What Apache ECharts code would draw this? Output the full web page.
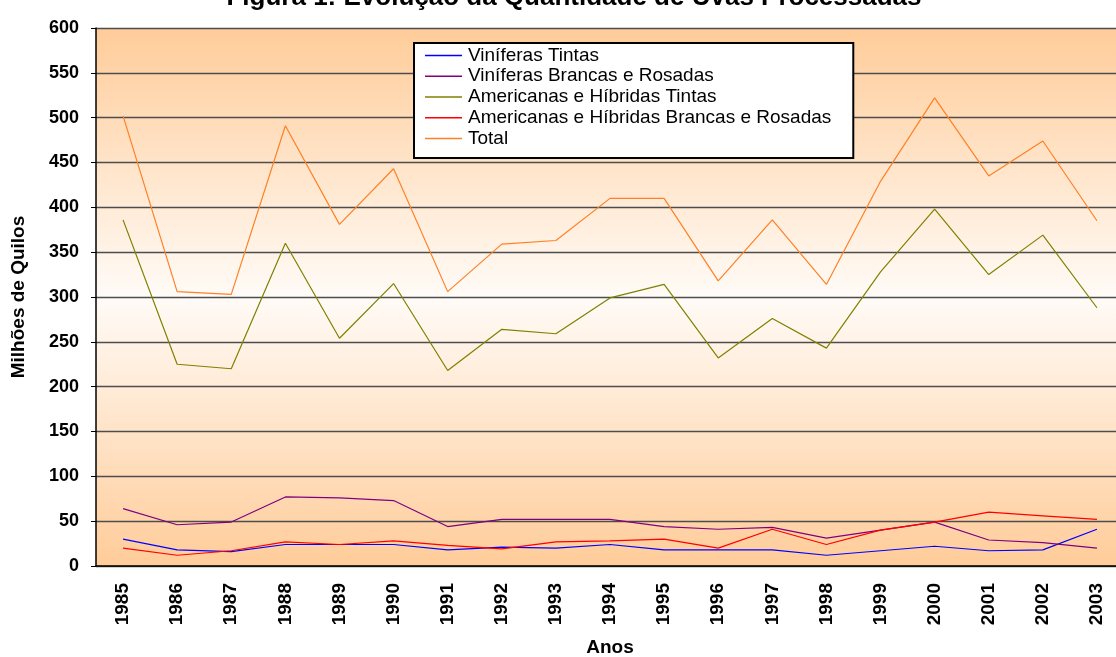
<!DOCTYPE html>
<html>
<head>
<meta charset="utf-8">
<script src="https://cdn.jsdelivr.net/npm/echarts@6/dist/echarts.min.js"></script>
<style>
  html, body { margin: 0; padding: 0; background: #fff; }
  #main { width: 1116px; height: 657px; }
</style>
</head>
<body>
<div id="main"></div>
<script>
// dados (milhões de quilos)
const anos = ['1985','1986','1987','1988','1989','1990','1991','1992','1993','1994',
              '1995','1996','1997','1998','1999','2000','2001','2002','2003'];
const viniferasTintas = [30, 18, 16, 24, 24, 24, 18, 21, 20, 24, 18, 18, 18, 12, 17, 22, 17, 18, 41];
const viniferasBrancas = [64, 46, 49, 77, 76, 73, 44, 52, 52, 52, 44, 41, 43, 31, 40, 49, 29, 26, 20];
const americanasTintas = [386, 225, 220, 360, 254, 315, 218, 264, 259, 299, 314, 232, 276, 243, 328, 398, 325, 369, 288];
const americanasBrancas = [20, 12, 17, 27, 24, 28, 23, 19, 27, 28, 30, 20, 41, 24, 40, 49, 60, 56, 52];
const total = [502, 306, 303, 491, 381, 443, 306, 359, 363, 410, 410, 318, 386, 314, 429, 522, 435, 474, 385];

const nomes = ['Viníferas Tintas', 'Viníferas Brancas e Rosadas', 'Americanas e Híbridas Tintas',
               'Americanas e Híbridas Brancas e Rosadas', 'Total'];
const cores = ['#0000FF', '#800080', '#808000', '#FF0000', '#FF8026'];
const valores = [viniferasTintas, viniferasBrancas, americanasTintas, americanasBrancas, total];

let myChart = echarts.init(document.getElementById('main'));

let option = {
  animation: false,
  textStyle: { fontFamily: 'Liberation Sans, Arial, sans-serif' },
  title: {
    text: 'Figura 1: Evolução da Quantidade de Uvas Processadas',
    left: 569,
    textAlign: 'center',
    top: -20,
    textStyle: { fontSize: 26, fontWeight: 'bold', color: '#000' }
  },
  legend: {
    orient: 'vertical',
    left: 414,
    top: 43,
    backgroundColor: '#fff',
    borderColor: '#000',
    borderWidth: 2,
    padding: [3, 22, 10, 11],
    itemGap: 1.75,
    itemWidth: 37,
    itemHeight: 1.5,
    icon: 'rect',
    textStyle: { fontSize: 19, lineHeight: 19, color: '#000', padding: [0, 0, 0, 1] },
    data: nomes
  },
  grid: {
    left: 96,
    right: -8,
    top: 28,
    bottom: 91,
    outerBoundsMode: 'none',
    show: true,
    borderWidth: 0,
    backgroundColor: new echarts.graphic.LinearGradient(0, 0, 0, 1, [
      { offset: 0, color: '#FFCC99' },
      { offset: 0.5, color: '#FFFBF7' },
      { offset: 1, color: '#FFCC99' }
    ])
  },
  xAxis: {
    type: 'category',
    data: anos,
    name: 'Anos',
    nameLocation: 'middle',
    nameGap: 72,
    nameTextStyle: { fontSize: 19, fontWeight: 'bold', color: '#000' },
    axisLine: { lineStyle: { color: '#000', width: 1.5 } },
    axisTick: { length: 5, lineStyle: { color: '#000' } },
    axisLabel: { rotate: 90, fontSize: 19, fontWeight: 'bold', color: '#000', margin: 17 }
  },
  yAxis: {
    type: 'value',
    min: 0,
    max: 600,
    interval: 50,
    name: 'Milhões de Quilos',
    nameLocation: 'middle',
    nameGap: 68,
    nameTextStyle: { fontSize: 19, fontWeight: 'bold', color: '#000' },
    axisLine: { show: true, lineStyle: { color: '#000', width: 1.5 } },
    axisTick: { show: true, length: 5, lineStyle: { color: '#000' } },
    axisLabel: { fontSize: 18, fontWeight: 'bold', color: '#000', margin: 17 },
    splitLine: { lineStyle: { color: '#4d4d4d', width: 1.3 } }
  },
  series: nomes.map((n, i) => ({
    name: n,
    type: 'line',
    data: valores[i],
    symbol: 'none',
    color: cores[i],
    lineStyle: { width: 1.2, color: cores[i] }
  }))
};

myChart.setOption(option);
</script>
</body>
</html>
